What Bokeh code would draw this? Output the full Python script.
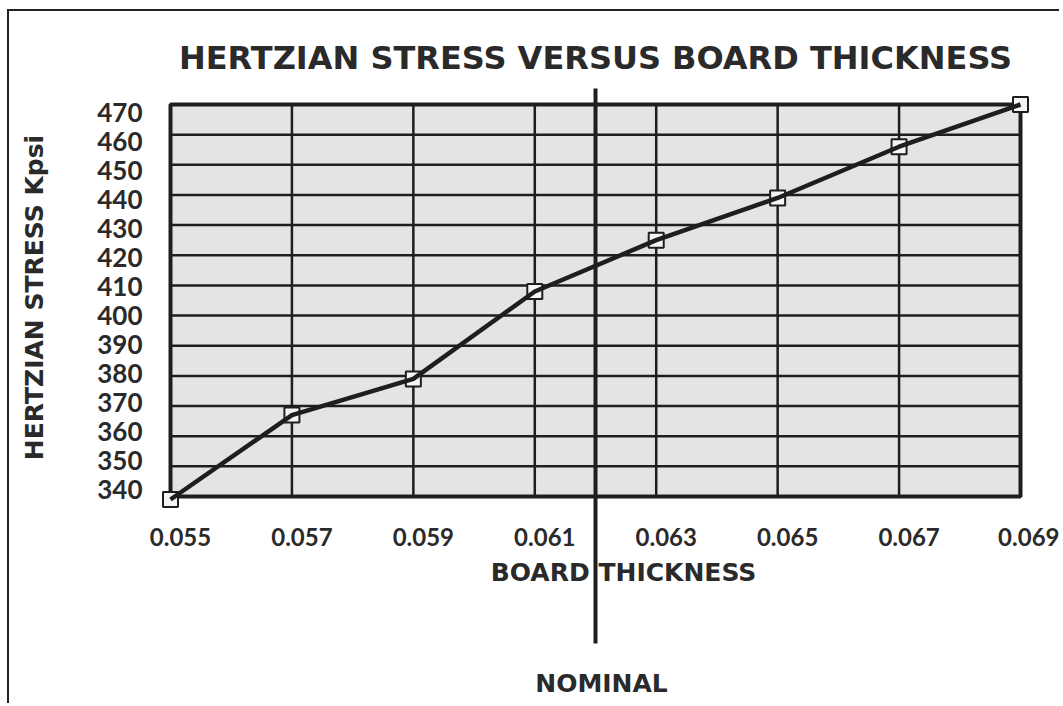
from bokeh.plotting import figure
from bokeh.models import (FixedTicker, LinearAxis, Range1d, NumeralTickFormatter)
from bokeh.core.properties import value
from bokeh.embed import file_html
from bokeh.resources import INLINE

# ---------------- data ----------------
thickness = [0.055, 0.057, 0.059, 0.061, 0.063, 0.065, 0.067, 0.069]
stress = [339, 367, 379, 408, 425, 439, 456, 470]
x_ticks = [0.055, 0.057, 0.059, 0.061, 0.063, 0.065, 0.067, 0.069]
x_tick_labels = ["0.055", "0.057", "0.059", "0.061", "0.063", "0.065", "0.067", "0.069"]
y_ticks = [340, 350, 360, 370, 380, 390, 400, 410, 420, 430, 440, 450, 460, 470]
y_tick_labels = [str(v) for v in y_ticks]
nominal = 0.062

title_text = "HERTZIAN STRESS VERSUS BOARD THICKNESS"
x_label_text = "BOARD THICKNESS"
y_label_text = "HERTZIAN STRESS Kpsi"
nominal_text = "NOMINAL"

# ---------------- layout (page pixels) ----------------
INK = "#1e1e1e"
TXT = "#2a2a2a"
W, H = 1052, 694
ORG_X, ORG_Y = 9, 11          # page offset of figure content
BOX_L, BOX_R, BOX_T, BOX_B = 170, 1020, 104, 496
FR_L, FR_R, FR_T, FR_B = 158, 1032, 86, 508

xmin, xmax = min(x_ticks), max(x_ticks)
ymin, ymax = min(y_ticks), max(y_ticks)
kx = (BOX_R - BOX_L) / (xmax - xmin)
ky = (BOX_B - BOX_T) / (ymax - ymin)


def px_x(p):
    return xmin + (p - BOX_L) / kx


def px_y(p):
    return ymin + (BOX_B - p) / ky


p = figure(width=W, height=H, output_backend="svg", toolbar_location=None,
           x_axis_type=None, y_axis_type=None,
           x_range=Range1d(px_x(FR_L), px_x(FR_R)),
           y_range=Range1d(px_y(FR_B), px_y(FR_T)),
           min_border_left=FR_L - ORG_X, min_border_right=W - (FR_R - ORG_X),
           min_border_top=FR_T - ORG_Y, min_border_bottom=H - (FR_B - ORG_Y),
           background_fill_color="white", border_fill_color="white",
           outline_line_color=None)
p.styles = {"border-left": "2px solid #222", "border-top": "2px solid #222",
            "margin-left": "7px", "margin-top": "9px"}

p.title.text = title_text
p.title.align = "center"
p.title.text_font = "DejaVu Sans"
p.title.text_font_style = "bold"
p.title.text_font_size = "32px"
p.title.text_color = TXT
p.title.standoff = 19

# label ranges (tick labels in the original sit slightly off the grid)
shift = 10 / kx
p.extra_x_ranges = {"xlab": Range1d(px_x(FR_L) - shift, px_x(FR_R) - shift)}
lab_top, lab_bot = 112, 489
kly = (lab_bot - lab_top) / (ymax - ymin)
p.extra_y_ranges = {"ylab": Range1d(ymin - (FR_B - lab_bot) / kly,
                                    ymax + (lab_top - FR_T) / kly)}

xaxis = LinearAxis(x_range_name="xlab",
                   ticker=FixedTicker(ticks=x_ticks),
                   formatter=NumeralTickFormatter(format="0.000"),
                   major_label_overrides=dict(zip(x_ticks, x_tick_labels)))
yaxis = LinearAxis(y_range_name="ylab",
                   ticker=FixedTicker(ticks=y_ticks),
                   major_label_overrides=dict(zip(y_ticks, y_tick_labels)),
                   axis_label=y_label_text)
for ax in (xaxis, yaxis):
    ax.axis_line_color = None
    ax.major_tick_line_color = None
    ax.minor_tick_line_color = None
    ax.major_label_text_font = "Lato"
    ax.major_label_text_font_style = "bold"
    ax.major_label_text_color = TXT
xaxis.major_label_text_font_size = "24px"
xaxis.major_label_standoff = 13
yaxis.major_label_text_font_size = "26px"
yaxis.major_label_standoff = 10
yaxis.axis_label_text_font = "DejaVu Sans"
yaxis.axis_label_text_font_style = "bold"
yaxis.axis_label_text_font_size = "25px"
yaxis.axis_label_text_color = TXT
yaxis.axis_label_standoff = 45
p.add_layout(xaxis, "below")
p.add_layout(yaxis, "left")

# plot box
p.quad(left=[xmin], right=[xmax], bottom=[ymin], top=[ymax],
       fill_color="#e4e4e4", line_color=INK, line_width=4)
# grid lines
inner_x = x_ticks[1:-1]
inner_y = y_ticks[1:-1]
p.segment(x0=[xmin] * len(inner_y), x1=[xmax] * len(inner_y), y0=inner_y, y1=inner_y,
          line_color=INK, line_width=2.5)
p.segment(x0=inner_x, x1=inner_x, y0=[ymin] * len(inner_x), y1=[ymax] * len(inner_x),
          line_color=INK, line_width=2.5)

# data
p.scatter(thickness, stress, marker="square", size=15, fill_color="#f5f5f5",
          line_color=INK, line_width=2)
p.line(thickness, stress, line_color=INK, line_width=4.5)

# nominal line (overlay level so it is not clipped to the frame)
p.segment(x0=[nominal], x1=[nominal], y0=[px_y(88)], y1=[px_y(643)],
          line_color=INK, line_width=4, level="overlay")

# texts below the frame (overlay-level text glyphs)
p.text(x=[px_x(623)], y=[px_y(572)], text=[x_label_text], text_align="center",
       text_baseline="middle", text_font=value("DejaVu Sans"),
       text_font_style="bold", text_font_size="25px", text_color=TXT,
       level="overlay")
p.text(x=[px_x(601)], y=[px_y(683)], text=[nominal_text], text_align="center",
       text_baseline="middle", text_font=value("DejaVu Sans"),
       text_font_style="bold", text_font_size="25px", text_color=TXT,
       level="overlay")

open("out.html", "w").write(file_html(p, INLINE))
